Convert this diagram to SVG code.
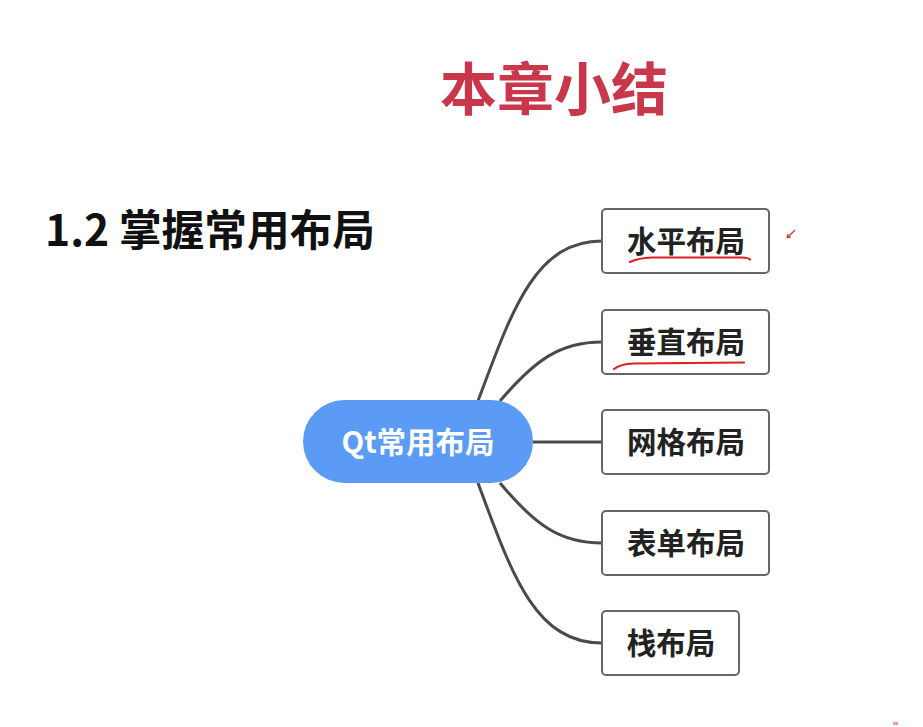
<svg xmlns="http://www.w3.org/2000/svg" width="923" height="727" viewBox="0 0 923 727">
<style>
.cjk{font-family:"Noto Sans CJK SC","Noto Sans",sans-serif;font-weight:bold}
.box{fill:#fff;stroke:#666;stroke-width:2}
.lbl{font-size:29.5px;fill:#222;text-anchor:middle}
.conn{fill:none;stroke:#4a4a4a;stroke-width:3}
.ink{fill:none;stroke:#e02020;stroke-width:2.2;stroke-linecap:round}
</style>
<rect width="923" height="727" fill="#fff"/>
<text class="cjk" x="554" y="110" font-size="57" fill="#c8374a" text-anchor="middle">本章小结</text>
<text class="cjk" x="45" y="246" font-size="42.7" fill="#111">1.2 掌握常用布局</text>
<g id="connectors">
<path class="conn" d="M478,401 C512,310 535,241 602,241"/>
<path class="conn" d="M500,401 C535,360 560,342 602,342"/>
<path class="conn" d="M533,442 L602,442"/>
<path class="conn" d="M500,483 C535,525 560,543 602,543"/>
<path class="conn" d="M478,483 C512,575 535,643 602,643"/>
</g>
<g id="center">
<rect x="303" y="400" width="230" height="83" rx="41.5" fill="#5b9af5"/>
<text class="cjk" x="418" y="453" font-size="29.5" fill="#fff" text-anchor="middle">Qt常用布局</text>
</g>
<g id="n1">
<rect class="box" x="602" y="209" width="167" height="64" rx="4"/>
<text class="cjk lbl" x="686" y="252">水平布局</text>
</g>
<g id="n2">
<rect class="box" x="602" y="310" width="167" height="64" rx="4"/>
<text class="cjk lbl" x="686" y="353">垂直布局</text>
</g>
<g id="n3">
<rect class="box" x="602" y="410" width="167" height="64" rx="4"/>
<text class="cjk lbl" x="686" y="453">网格布局</text>
</g>
<g id="n4">
<rect class="box" x="602" y="511" width="167" height="64" rx="4"/>
<text class="cjk lbl" x="686" y="554">表单布局</text>
</g>
<g id="n5">
<rect class="box" x="602" y="611" width="137" height="64" rx="4"/>
<text class="cjk lbl" x="671" y="654">栈布局</text>
</g>
<g id="annotations">
<path class="ink" d="M630,262 Q638,258 652,257.5 L742,257.5 Q749,258 750,259.5"/>
<path class="ink" d="M614,369 Q620,364 634,363.5 L744,362.5"/>
<path d="M787,238 L795,230 M787,238 L791,237 M787,238 L788,234" stroke="#d03030" stroke-width="1.2" fill="none"/>
<rect x="893" y="722" width="5" height="3" fill="#e8a0a8"/>
</g>
</svg>
